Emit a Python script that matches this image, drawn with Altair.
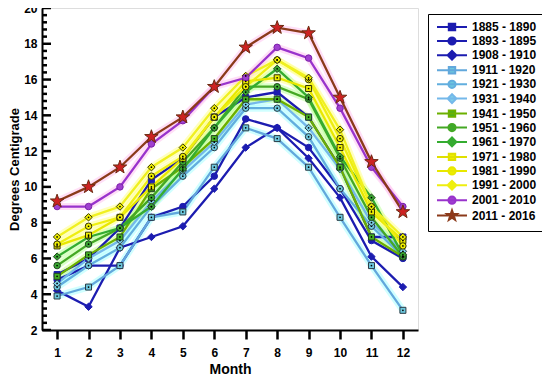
import altair as alt
import pandas as pd

months = list(range(1, 13))
periods = ["1885 - 1890", "1893 - 1895", "1908 - 1910", "1911 - 1920", "1921 - 1930",
           "1931 - 1940", "1941 - 1950", "1951 - 1960", "1961 - 1970", "1971 - 1980",
           "1981 - 1990", "1991 - 2000", "2001 - 2010", "2011 - 2016"]

v1885 = [5.1, 6.0, 7.7, 10.4, 11.6, 13.9, 15.0, 15.3, 13.9, 11.1, 7.2, 7.2]
v1893 = [4.8, 5.6, 5.6, 8.3, 8.9, 10.6, 13.8, 13.3, 12.2, 9.9, 7.0, 6.0]
v1908 = [4.2, 3.3, 6.6, 7.2, 7.8, 9.9, 12.2, 13.3, 11.6, 9.4, 6.1, 4.4]
v1911 = [3.9, 4.4, 5.6, 8.3, 8.6, 11.1, 13.3, 12.7, 11.1, 8.3, 5.6, 3.1]
v1921 = [4.4, 5.6, 6.6, 8.9, 10.6, 12.2, 14.4, 14.4, 12.8, 9.9, 7.8, 6.1]
v1931 = [4.6, 6.0, 7.0, 9.2, 10.9, 12.5, 14.6, 14.9, 13.3, 11.0, 8.0, 6.4]
v1941 = [5.0, 6.2, 7.2, 9.9, 11.1, 12.7, 14.9, 14.9, 13.9, 11.1, 7.2, 6.1]
v1951 = [5.6, 6.8, 7.7, 9.4, 11.4, 13.3, 15.6, 15.6, 14.9, 11.6, 8.3, 6.1]
v1961 = [6.1, 7.2, 7.7, 8.9, 11.0, 13.3, 15.3, 16.6, 15.0, 11.7, 9.4, 6.2]
v1971 = [6.7, 7.3, 8.3, 10.0, 11.6, 13.9, 15.9, 16.1, 15.5, 12.2, 8.6, 7.0]
v1981 = [6.8, 7.8, 8.3, 10.6, 11.7, 13.9, 15.6, 17.1, 16.0, 12.7, 8.9, 6.7]
v1991 = [7.2, 8.3, 8.9, 11.1, 12.2, 14.4, 16.2, 17.1, 16.1, 13.2, 8.9, 7.2]
v2001 = [8.9, 8.9, 10.0, 12.4, 13.7, 15.6, 16.1, 17.8, 17.2, 14.4, 11.1, 8.9]
v2011 = [9.2, 10.0, 11.1, 12.8, 13.9, 15.6, 17.8, 18.9, 18.6, 15.0, 11.4, 8.6]
series = [v1885, v1893, v1908, v1911, v1921, v1931, v1941, v1951, v1961,
          v1971, v1981, v1991, v2001, v2011]

y_major = [2, 4, 6, 8, 10, 12, 14, 16, 18, 20]
y_minor = [2.4, 2.8, 3.2, 3.6, 4.4, 4.8, 5.2, 5.6, 6.4, 6.8, 7.2, 7.6, 8.4, 8.8, 9.2,
           9.6, 10.4, 10.8, 11.2, 11.6, 12.4, 12.8, 13.2, 13.6, 14.4, 14.8, 15.2, 15.6,
           16.4, 16.8, 17.2, 17.6, 18.4, 18.8, 19.2, 19.6]

line_colors = ["#1c1cb0", "#1c1cb0", "#1c1cb0", "#62a8dc", "#62aede", "#74b8ea",
               "#6cb000", "#44a824", "#34ac30", "#e8e800", "#eeee10", "#f0f020",
               "#9933cc", "#8b3a1a"]
halo_colors = ["rgba(0,0,0,0)", "rgba(0,0,0,0)", "rgba(0,0,0,0)", "#aaffff", "#aaffff",
               "#aaffff", "#ccff88", "#bbff99", "#bbff99", "#ffff88", "#ffff88",
               "#ffff88", "#ffc4f0", "#ffc4f0"]
marker_fill = ["#1c1cb0", "#1c1cb0", "#1c1cb0", "#6cc8de", "#6cc8de", "#7cd0e8",
               "#44b022", "#38a830", "#38a830", "#eeee00", "#eeee00", "#f2f200",
               "#a040d0", "#cc2222"]
marker_stroke = ["#1c1cb0", "#1c1cb0", "#1c1cb0", "#2a3a44", "#2a3a44", "#2a3a44",
                 "#224422", "#224422", "#224422", "#333300", "#333300", "#333300",
                 "#7a22aa", "#6b2a10"]
marker_kind = ["square", "circle", "diamond", "square", "circle", "diamond",
               "square", "circle", "diamond", "square", "circle", "diamond",
               "circle", "star"]
legend_line = ["#1c1cb0", "#1c1cb0", "#1c1cb0", "#62a8dc", "#62aede", "#74b8ea",
               "#6cb000", "#44a824", "#34ac30", "#e0e000", "#e8e800", "#eeee10",
               "#9933cc", "#8b3a1a"]
legend_fill = ["#1c1cb0", "#1c1cb0", "#1c1cb0", "#6cc8de", "#6cc8de", "#7cd0e8",
               "#44b022", "#38a830", "#38a830", "#eeee00", "#eeee00", "#f2f200",
               "#a040d0", "#cc2222"]

STAR = ("M0,-1L0.235,-0.324L0.951,-0.309L0.38,0.124L0.588,0.809L0,0.4"
        "L-0.588,0.809L-0.38,0.124L-0.951,-0.309L-0.235,-0.324Z")
plot_shapes = {"square": "square", "circle": "circle", "diamond": "diamond", "star": STAR}
plot_sizes = {"square": 36, "circle": 42, "diamond": 55, "star": 200}
LINE = "M-3.75,0H3.75"
legend_shapes = {
    "square": LINE + "M-0.8,-0.8H0.8V0.8H-0.8Z",
    "circle": LINE + "M-0.9,0A0.9,0.9,0,1,1,0.9,0A0.9,0.9,0,1,1,-0.9,0Z",
    "diamond": LINE + "M-1.1,0L0,-1.1L1.1,0L0,1.1Z",
    "star": LINE + ("M0,-1.3L0.306,-0.421L1.236,-0.402L0.494,0.161L0.764,1.052L0,0.52"
                    "L-0.764,1.052L-0.494,0.161L-1.236,-0.402L-0.306,-0.421Z"),
}

rows = []
for i, p in enumerate(periods):
    for m, v in zip(months, series[i]):
        rows.append({
            "period": p, "order": i, "month": m, "temp": v,
            "lc": line_colors[i], "hc": halo_colors[i],
            "mf": marker_fill[i], "ms": marker_stroke[i],
            "shp": plot_shapes[marker_kind[i]], "sz": plot_sizes[marker_kind[i]],
            "dot": 1 if 3 <= i <= 11 else 0,
        })
df = pd.DataFrame(rows)
ticks_df = pd.DataFrame({"v": y_major + y_minor,
                         "kind": ["major"] * len(y_major) + ["minor"] * len(y_minor)})

W, H = 376, 322
FONT = "Liberation Sans"

xenc = alt.X("month:Q",
             scale=alt.Scale(domain=[0.52, 12.48], nice=False, zero=False),
             axis=alt.Axis(title="Month", values=months, ticks=True, tickSize=9,
                           tickWidth=2.5, tickColor="#000000", tickOpacity=1,
                           labelPadding=8, labelFontSize=12,
                           labelFontWeight="bold", labelColor="black", labelFont=FONT,
                           titleFont=FONT, titleFontSize=14, titleFontWeight="bold",
                           titleColor="black", titlePadding=4, grid=False,
                           domainColor="black", domainWidth=2, labelFlush=False))
yscale = alt.Scale(domain=[2, 20], nice=False, zero=False)
axis_left = alt.Axis(orient="left", title="Degrees Centigrade", values=y_major, tickSize=0,
                     labelPadding=5, labelFontSize=12, labelFontWeight="bold",
                     labelColor="black", labelFont=FONT, titleFont=FONT,
                     titleFontSize=13, titleFontWeight="bold", titleColor="black",
                     titlePadding=2, grid=False, domainColor="black", domainWidth=2)
yenc = alt.Y("temp:Q", scale=yscale, axis=axis_left)

base = alt.Chart(df)

halo = base.mark_line(strokeWidth=7, opacity=0.55).encode(
    x=xenc, y=yenc,
    color=alt.Color("hc:N", scale=None), detail="period:N", order="month:Q")

lines = base.mark_line(strokeWidth=2.3).encode(
    x=xenc, y=yenc,
    color=alt.Color("lc:N", scale=None), detail="period:N", order="month:Q")

points = base.mark_point(filled=True, opacity=1, strokeWidth=1).encode(
    x=xenc, y=yenc,
    fill=alt.Fill("mf:N", scale=None), stroke=alt.Stroke("ms:N", scale=None),
    shape=alt.Shape("shp:N", scale=None), size=alt.Size("sz:Q", scale=None))

dots = base.transform_filter("datum.dot == 1").mark_point(
    filled=True, size=3, color="black", shape="circle", opacity=1).encode(
    x=xenc, y=yenc)

ticks_major = alt.Chart(ticks_df).transform_filter("datum.kind == 'major'").mark_rule(
    strokeWidth=2.5, stroke="#000000", opacity=1).encode(
    y=alt.Y("v:Q", scale=yscale, axis=axis_left), x=alt.value(0), x2=alt.value(9))
ticks_minor = alt.Chart(ticks_df).transform_filter("datum.kind == 'minor'").mark_rule(
    strokeWidth=2.5, stroke="#000000", opacity=1).encode(
    y=alt.Y("v:Q", scale=yscale, axis=axis_left), x=alt.value(0), x2=alt.value(5))

leg = alt.Legend(title=None, orient="none", legendX=386, legendY=6, direction="vertical",
                 symbolSize=64, symbolStrokeWidth=2, symbolOpacity=1, labelFont=FONT,
                 labelFontSize=12, labelFontWeight="bold", labelColor="black",
                 strokeColor="black", fillColor="white", padding=7, rowPadding=-2.7,
                 symbolOffset=11, labelOffset=14)

legend_layer = base.transform_filter("datum.month > 100").mark_point(
    opacity=1, strokeWidth=2).encode(
    x=xenc, y=yenc,
    fill=alt.Fill("period:N", scale=alt.Scale(domain=periods, range=legend_fill),
                  legend=leg),
    stroke=alt.Stroke("period:N", scale=alt.Scale(domain=periods, range=legend_line),
                      legend=leg),
    shape=alt.Shape("period:N",
                    scale=alt.Scale(domain=periods,
                                    range=[legend_shapes[k] for k in marker_kind]),
                    legend=leg))

chart = alt.layer(halo, lines, points, dots, ticks_major, ticks_minor,
                  legend_layer).properties(
    width=W, height=H,
    autosize=alt.AutoSizeParams(type="none"),
    padding={"left": 34, "top": 0, "right": 124, "bottom": 50},
).configure_view(stroke="black", strokeWidth=2).configure_legend(
    labelFont=FONT, labelFontSize=12, labelFontWeight="bold", labelColor="black",
    symbolOpacity=1, symbolStrokeWidth=2
).configure(background="white")

chart.save("out.html", embed_options={"renderer": "svg", "actions": False})
